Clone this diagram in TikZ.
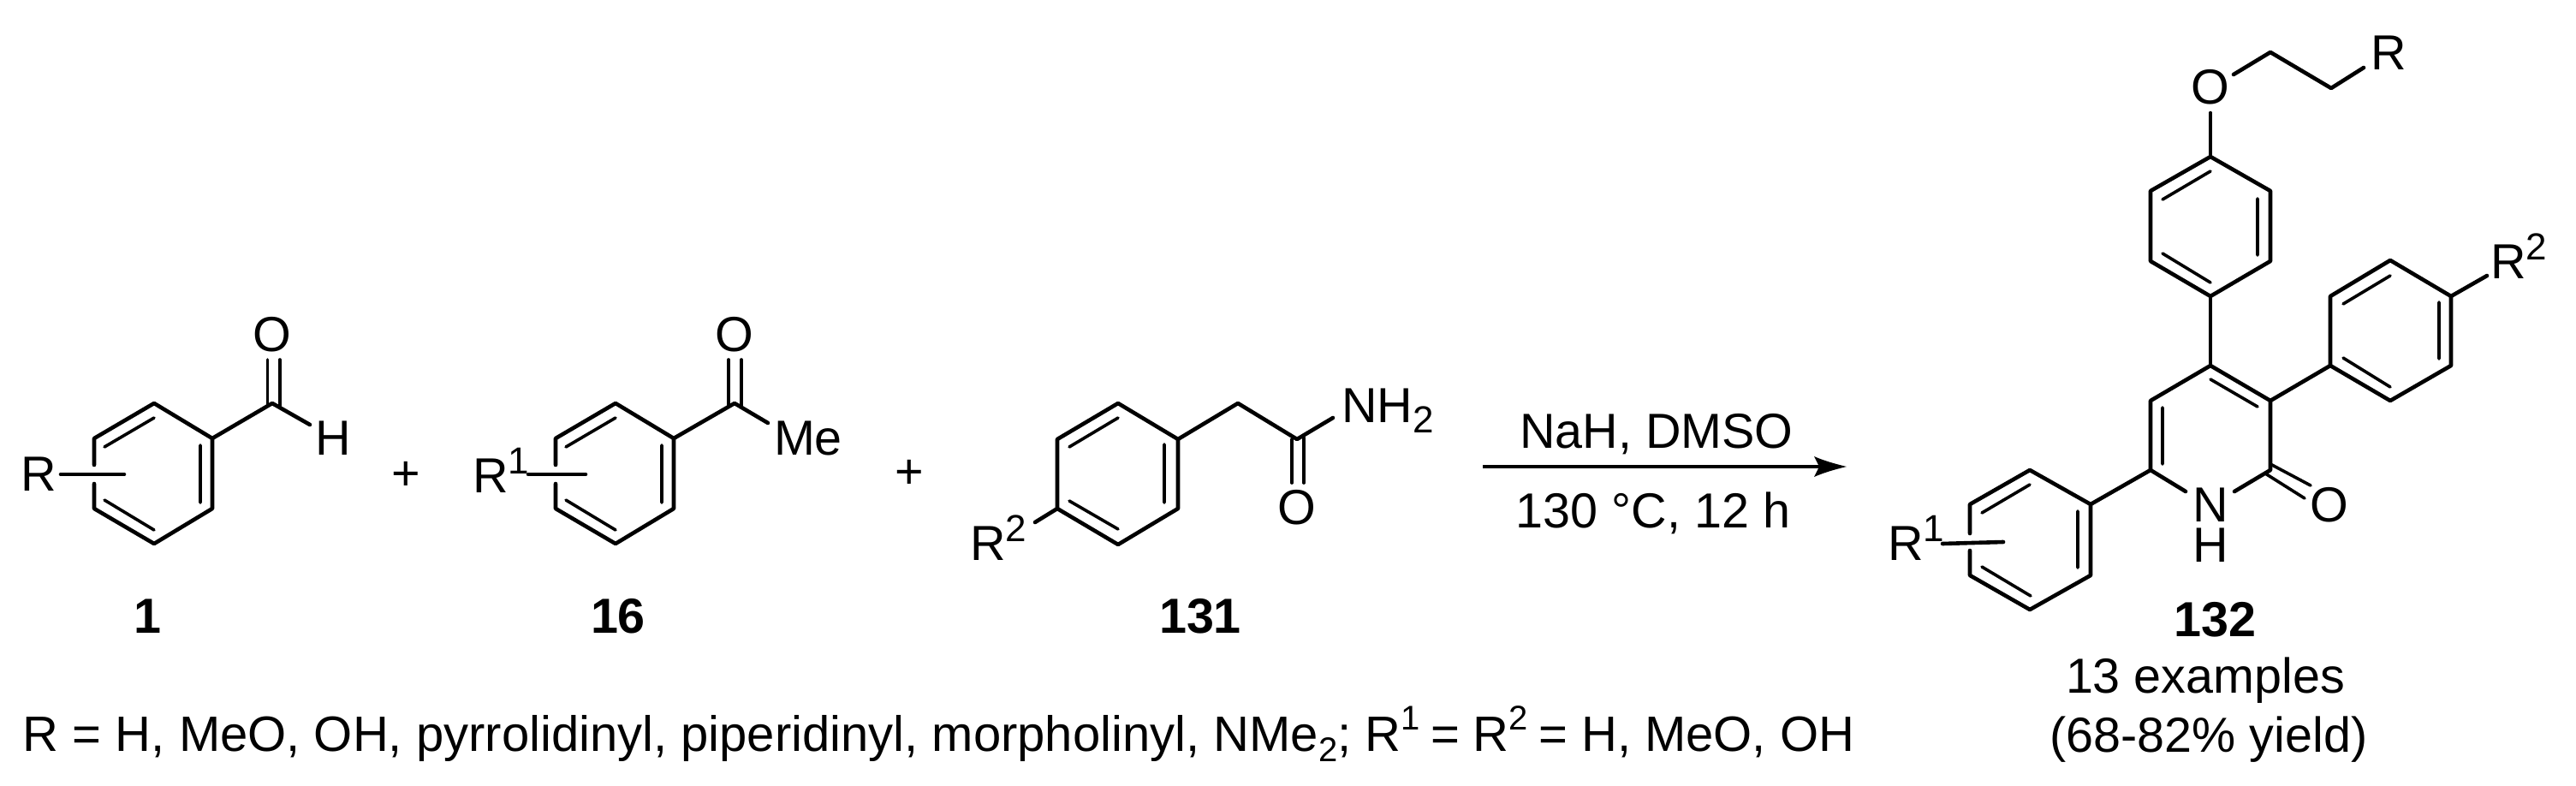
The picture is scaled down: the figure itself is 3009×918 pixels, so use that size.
\documentclass[tikz,border=0pt]{standalone}
\usepackage{fontspec}
\setmainfont{Liberation Sans}
\newcommand{\chemfont}{\fontsize{57.5}{47}\selectfont}
\newcommand{\footfont}{\fontsize{58}{66}\selectfont}
\newcommand{\supfont}{\fontsize{44}{50}\selectfont}
\newcommand{\footsup}{\fontsize{40}{50}\selectfont}
\newcommand{\upnum}[1]{\raisebox{22pt}{\supfont #1}}
\tikzset{
  atom/.style={inner sep=0pt,outer sep=0pt,font=\chemfont},
  bondline/.style={line width=4.6pt,line cap=round,line join=round},
  innerline/.style={line width=3.6pt,line cap=round},
}
\begin{document}
\begin{tikzpicture}[x=1pt,y=-1pt]
\useasboundingbox (0,0) rectangle (3009,918);
% --- benzaldehyde 1
\coordinate (a1) at (180,471);\coordinate (a2) at (248,512);\coordinate (a3) at (248,594);
\coordinate (a4) at (180,635);\coordinate (a5) at (110,594);\coordinate (a6) at (110,512);
\coordinate (ac) at (318,471);\coordinate (ah) at (362,496);
\coordinate (agu) at (110,543);\coordinate (agl) at (110,565);
\coordinate (ars) at (71,554);\coordinate (are) at (145,554);
\draw[bondline] (agu) -- (a6) -- (a1) -- (a2) -- (a3) -- (a4) -- (a5) -- (agl);
\draw[bondline] (a2) -- (ac) -- (ah);
\draw[bondline] (ars) -- (are);
\draw[innerline] (122,522) -- (180,488) (234,520) -- (234,587) (122,584) -- (180,619);
\draw[innerline] (312.5,420) -- (312.5,473) (327,420) -- (327,475);
\node[atom] (aO) at (318,391) {O};
\node[atom] (aH) at (389,512) {H};
\node[atom] (aR) at (45,554) {R};
\node[atom] (plus1) at (474,556) {+};
\node[atom,font=\chemfont\bfseries] (l1) at (172,720) {1};
% --- acetophenone 16
\coordinate (b1) at (719,471);\coordinate (b2) at (787,512);\coordinate (b3) at (787,594);
\coordinate (b4) at (719,635);\coordinate (b5) at (649,594);\coordinate (b6) at (649,512);
\coordinate (bc) at (858,471);\coordinate (bme) at (897,494);
\coordinate (bgu) at (649,543);\coordinate (bgl) at (649,565);
\coordinate (brs) at (617,554);\coordinate (bre) at (684,554);
\draw[bondline] (bgu) -- (b6) -- (b1) -- (b2) -- (b3) -- (b4) -- (b5) -- (bgl);
\draw[bondline] (b2) -- (bc) -- (bme);
\draw[bondline] (brs) -- (bre);
\draw[innerline] (661,522) -- (719,488) (773,520) -- (773,587) (661,584) -- (719,619);
\draw[innerline] (851,420) -- (851,473) (866,420) -- (866,475);
\node[atom] (bO) at (858,391) {O};
\node[atom] (bMe) at (944,512) {Me};
\node[atom,anchor=base west] (bR) at (552,575) {R\upnum{1}};
\node[atom,font=\chemfont\bfseries] (l16) at (722,720) {16};
\node[atom] (plus2) at (1062,554) {+};
% --- amide 131
\coordinate (c1) at (1306,471);\coordinate (c2) at (1376,513);\coordinate (c3) at (1376,594);
\coordinate (c4) at (1306,636);\coordinate (c5) at (1235,594);\coordinate (c6) at (1235,513);
\coordinate (cch) at (1446,471);\coordinate (cc) at (1515,513);\coordinate (cn) at (1557,488);
\coordinate (crb) at (1209,610);
\draw[bondline] (c6) -- (c1) -- (c2) -- (c3) -- (c4) -- (c5) -- cycle;
\draw[bondline] (c2) -- (cch) -- (cc) -- (cn);
\draw[bondline] (c5) -- (crb);
\draw[innerline] (1249,522) -- (1306,488) (1360,519) -- (1360,587) (1249,585) -- (1306,618);
\draw[innerline] (1509,513) -- (1509,564) (1523,511) -- (1523,564);
\node[atom,anchor=base west] (cNH) at (1567,493) {NH\raisebox{-12pt}{\supfont 2}};
\node[atom] (cO) at (1515,593) {O};
\node[atom,anchor=base west] (cR) at (1133,654) {R\upnum{2}};
\node[atom,font=\chemfont\bfseries] (l131) at (1402,720) {131};
% --- arrow
\coordinate (arS) at (1732,545);
\coordinate (arE) at (2157,545);
\coordinate (arN) at (2125,545);
\draw[line width=4.7pt] (arS) -- (arN);
\fill (arE) .. controls (2140,541) and (2128,537) .. (2119,533) -- (arN) -- (2119,557) .. controls (2128,553) and (2140,549) .. (arE) -- cycle;
\node[atom,anchor=base] (reag1) at (1935,523) {NaH, DMSO};
\node[atom,anchor=base] (reag2) at (1931,616) {130 °C, 12 h};
% --- product 132
\coordinate (p1) at (2582,183);\coordinate (p2) at (2652,223);\coordinate (p3) at (2652,305);
\coordinate (p4) at (2582,346);\coordinate (p5) at (2512,305);\coordinate (p6) at (2512,223);
\coordinate (pob) at (2582,132);\coordinate (pe1) at (2609,87);\coordinate (pe2) at (2652,61);
\coordinate (pe3) at (2723,103);\coordinate (pe4) at (2761,79);
\draw[bondline] (p6) -- (p1) -- (p2) -- (p3) -- (p4) -- (p5) -- cycle;
\draw[bondline] (pob) -- (p1);
\draw[bondline] (pe1) -- (pe2) -- (pe3) -- (pe4);
\draw[innerline] (2526,233) -- (2582,200) (2637,232) -- (2637,298) (2526,296) -- (2582,330);
\node[atom] (pO) at (2582,102) {O};
\node[atom,anchor=base west] (pR) at (2769,81) {R};
% pyridone
\coordinate (q4) at (2582,427);\coordinate (q3) at (2652,468);\coordinate (q2) at (2652,549);
\coordinate (q6) at (2512,549);\coordinate (q5) at (2512,468);
\coordinate (qn1) at (2553,574);\coordinate (qn2) at (2610,574);
\draw[bondline] (p4) -- (q4);
\draw[bondline] (qn1) -- (q6) -- (q5) -- (q4) -- (q3) -- (q2) -- (qn2);
\draw[innerline] (2526,476) -- (2526,542) (2582,443) -- (2637,475);
\draw[innerline] (2652,542) -- (2699,567) (2646,553) -- (2692,582);
\node[atom,align=center] (qN) at (2582,613.5) {N\\H};
\node[atom] (qO) at (2721,590) {O};
% right aryl
\coordinate (r1) at (2722,427);\coordinate (r2) at (2722,346);\coordinate (r3) at (2792,304);
\coordinate (r4) at (2863,346);\coordinate (r5) at (2863,427);\coordinate (r6) at (2792,468);
\coordinate (rb) at (2905,322);
\draw[bondline] (r1) -- (r2) -- (r3) -- (r4) -- (r5) -- (r6) -- cycle;
\draw[bondline] (q3) -- (r1);
\draw[bondline] (r4) -- (rb);
\draw[innerline] (2737,355) -- (2792,322) (2849,353) -- (2849,419) (2737,418) -- (2792,452);
\node[atom,anchor=base west] (rR) at (2909,325) {R\upnum{2}};
% left aryl
\coordinate (s1) at (2442,589);\coordinate (s2) at (2371,549);\coordinate (s3) at (2301,589);
\coordinate (s4) at (2301,672);\coordinate (s5) at (2371,712);\coordinate (s6) at (2442,672);
\coordinate (sgu) at (2301,623);\coordinate (sgl) at (2301,643);
\coordinate (sl) at (2269,635);\coordinate (sr) at (2340,633);
\draw[bondline] (sgu) -- (s3) -- (s2) -- (s1) -- (s6) -- (s5) -- (s4) -- (sgl);
\draw[bondline] (q6) -- (s1);
\draw[bondline] (sl) -- (sr);
\draw[innerline] (2315,599) -- (2371,566) (2427,597) -- (2427,663) (2315,662) -- (2372,696);
\node[atom,anchor=base west] (sR) at (2205,654) {R\upnum{1}};
\node[atom,anchor=base,font=\chemfont\bfseries] (l132) at (2587,743) {132};
\node[atom,anchor=base] (ex) at (2576,809) {13 examples};
\node[atom,anchor=base] (yl) at (2580,878) {(68-82\% yield)};
% --- bottom text
\node[atom,anchor=base west,font=\footfont] (foot) at (27,877) {R = H, MeO, OH, pyrrolidinyl, piperidinyl, morpholinyl, NMe\raisebox{-12pt}{\footsup 2}; R\raisebox{25pt}{\footsup 1}\kern-4pt{} = R\raisebox{25pt}{\footsup 2}\kern-4pt{} = H, MeO, OH};
\end{tikzpicture}
\end{document}
